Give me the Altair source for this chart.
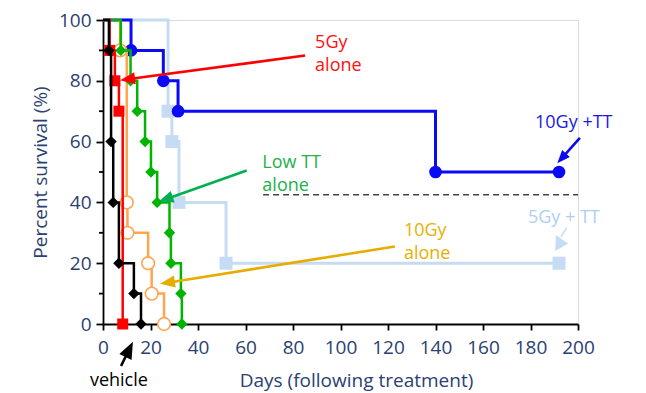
import math
import altair as alt
import pandas as pd

# ---------------- data ----------------
vehicle_days = [0, 2.5, 3.4, 4.3, 6.7, 13.0, 16.0]
vehicle_pct = [100, 90, 60, 40, 20, 10, 0]

gy5_days = [0, 2.8, 5.0, 6.7, 8.3]
gy5_pct = [100, 90, 80, 70, 0]

gy10_days = [0, 7.2, 10.0, 10.3, 19.0, 20.5, 25.7]
gy10_pct = [100, 90, 40, 30, 20, 10, 0]

lowtt_days = [0, 7.5, 11.6, 14.4, 17.7, 20.2, 22.8, 28.0, 28.6, 32.8, 33.2]
lowtt_pct = [100, 90, 80, 70, 60, 50, 40, 30, 20, 10, 0]

gy10tt_days = [0, 11.8, 25.4, 31.6, 140.0, 192.0]
gy10tt_pct = [100, 90, 80, 70, 50, 50]

gy5tt_days = [0, 27.4, 29.0, 32.0, 51.8, 192.0]
gy5tt_pct = [100, 70, 60, 40, 20, 20]

x_ticks = list(range(0, 201, 20))
y_ticks = list(range(0, 101, 20))
y_minor = [10, 30, 50, 70, 90]

ref_line_days = [67.4, 200]
ref_line_pct = [42.5, 42.5]

labels_text = ["5Gy\nalone", "Low TT\nalone", "10Gy\nalone", "10Gy +TT", "5Gy + TT", "vehicle"]
labels_day = [89.3, 67.1, 126.7, 181.9, 178.9, 6.7]
labels_pct = [90.9, 51.3, 28.8, 64.5, 33.2, -20.5]
labels_color = ["#FF1010", "#22B14C", "#E8B000", "#1A1AE6", "#AFCFF2", "#000000"]
labels_align = ["left", "left", "left", "left", "left", "center"]

arrow_tail_day = [85.1, 60.5, 122.9, 200.8, 7.6]
arrow_tail_pct = [88.3, 50.5, 25.5, 61.2, -13.8]
arrow_tip_day = [7.2, 23.4, 24.0, 191.3, 12.6]
arrow_tip_pct = [80.2, 40.2, 13.2, 52.9, -5.8]
arrow_color = ["#FF0000", "#00B050", "#E6AC00", "#0A0AF0", "#000000"]
arrow_len = [15, 15, 15, 13, 17]

lb_line_day = [195.2, 192.8]
lb_line_pct = [31.6, 28.7]
lb_head_day = [195.8]
lb_head_pct = [26.5]

# ---------------- layout ----------------
W, H = 475, 304
PX_DAY = W / 200.0
PX_PCT = H / 100.0
FONT = "Open Sans"
AXIS_COLOR = "#2B4171"

xscale = alt.Scale(domain=[0, 200], nice=False, zero=False)
yscale = alt.Scale(domain=[0, 100], nice=False)


def curve(days, pct, color, shape, size, width, filled=True, fill="white"):
    df = pd.DataFrame({"day": days, "pct": pct})
    line = alt.Chart(df).mark_line(
        interpolate="step-after", color=color, strokeWidth=width
    ).encode(
        x=alt.X("day:Q", scale=xscale),
        y=alt.Y("pct:Q", scale=yscale),
    )
    pts_df = df.iloc[1:]
    if filled:
        pm = alt.Chart(pts_df).mark_point(
            shape=shape, size=size, filled=True, color=color, opacity=1
        )
    else:
        pm = alt.Chart(pts_df).mark_point(
            shape=shape, size=size, filled=False, fill=fill, fillOpacity=1,
            stroke=color, strokeWidth=1.6, opacity=1
        )
    pts = pm.encode(x=alt.X("day:Q", scale=xscale), y=alt.Y("pct:Q", scale=yscale))
    return [line, pts]


layers = []

# axes carrier (invisible) – sets the axes
axis_df = pd.DataFrame({"day": [0, 200], "pct": [0, 100]})
axes = alt.Chart(axis_df).mark_point(opacity=0).encode(
    x=alt.X(
        "day:Q", scale=xscale,
        axis=alt.Axis(
            values=x_ticks, title="Days (following treatment)", grid=False,
            domainColor="black", domainWidth=1.8, tickColor="black", tickWidth=1.8,
            tickSize=6, labelFont=FONT, labelFontSize=19, labelColor=AXIS_COLOR,
            labelPadding=8, titleFont=FONT, titleFontSize=19, titleFontWeight="normal",
            titleColor=AXIS_COLOR, titleX=253, titleY=62, titleBaseline="alphabetic",
            labelFlush=False,
        ),
    ),
    y=alt.Y(
        "pct:Q", scale=yscale,
        axis=alt.Axis(
            values=y_ticks, title="Percent survival (%)", grid=False,
            domainColor="black", domainWidth=1.8, tickColor="black", tickWidth=1.8,
            tickSize=7, labelFont=FONT, labelFontSize=19, labelColor=AXIS_COLOR,
            labelPadding=5, titleFont=FONT, titleFontSize=19, titleFontWeight="normal",
            titleColor=AXIS_COLOR, titlePadding=8, labelFlush=False,
        ),
    ),
)
layers.append(axes)

minor = alt.Chart(pd.DataFrame({"pct": y_minor})).mark_rule(
    color="black", strokeWidth=1.8
).encode(x=alt.value(-4), x2=alt.value(0), y=alt.Y("pct:Q", scale=yscale))
layers.append(minor)

# dashed reference line
ref = alt.Chart(pd.DataFrame({"day": ref_line_days, "pct": ref_line_pct})).mark_line(
    color="#444444", strokeWidth=1.6, strokeDash=[6, 4]
).encode(x=alt.X("day:Q", scale=xscale), y=alt.Y("pct:Q", scale=yscale))
layers.append(ref)

layers += curve(gy5tt_days, gy5tt_pct, "#C6DCF4", "square", 169, 3)
layers += curve(gy10tt_days, gy10tt_pct, "#0A0AF5", "circle", 160, 3)
layers += curve(gy10_days, gy10_pct, "#FFA552", "circle", 160, 2.5, filled=False)
layers += curve(lowtt_days, lowtt_pct, "#00B400", "diamond", 130, 2.5)
layers += curve(gy5_days, gy5_pct, "#FF0000", "square", 121, 2.5)
layers += curve(vehicle_days, vehicle_pct, "#000000", "diamond", 130, 2.5)

# arrows
rows = []
for i in range(len(arrow_color)):
    dx = (arrow_tip_day[i] - arrow_tail_day[i]) * PX_DAY
    dy = -(arrow_tip_pct[i] - arrow_tail_pct[i]) * PX_PCT
    dist = math.hypot(dx, dy)
    ang = math.degrees(math.atan2(dx, -dy)) % 360
    frac = max(0.0, (dist - arrow_len[i] * 0.6) / dist)
    rows.append({
        "x1": arrow_tail_day[i], "y1": arrow_tail_pct[i],
        "x2": arrow_tail_day[i] + (arrow_tip_day[i] - arrow_tail_day[i]) * frac,
        "y2": arrow_tail_pct[i] + (arrow_tip_pct[i] - arrow_tail_pct[i]) * frac,
        "tx": arrow_tip_day[i], "ty": arrow_tip_pct[i],
        "ang": ang, "size": arrow_len[i] ** 2, "color": arrow_color[i],
    })
adf = pd.DataFrame(rows)
arrow_lines = alt.Chart(adf).mark_rule(strokeWidth=2.6).encode(
    x=alt.X("x1:Q", scale=xscale), y=alt.Y("y1:Q", scale=yscale),
    x2="x2:Q", y2="y2:Q", color=alt.Color("color:N", scale=None),
)
arrow_heads = alt.Chart(adf).mark_point(
    shape="M0,0L0.8,2L-0.8,2Z", filled=True, opacity=1
).encode(
    x=alt.X("tx:Q", scale=xscale), y=alt.Y("ty:Q", scale=yscale),
    angle=alt.Angle("ang:Q", scale=None), size=alt.Size("size:Q", scale=None),
    color=alt.Color("color:N", scale=None),
)
layers += [arrow_lines, arrow_heads]

lb_line = alt.Chart(pd.DataFrame({"day": lb_line_day, "pct": lb_line_pct})).mark_line(
    color="#C6DCF4", strokeWidth=1.5
).encode(x=alt.X("day:Q", scale=xscale), y=alt.Y("pct:Q", scale=yscale))
lb_head = alt.Chart(pd.DataFrame({"day": lb_head_day, "pct": lb_head_pct})).mark_point(
    shape="M0,0L1.28,2L-1.28,2Z", filled=True, opacity=1, color="#C6DCF4",
    size=156, angle=92,
).encode(x=alt.X("day:Q", scale=xscale), y=alt.Y("pct:Q", scale=yscale))
layers += [lb_line, lb_head]

# annotation texts
for i, t in enumerate(labels_text):
    tdf = pd.DataFrame({"day": [labels_day[i]], "pct": [labels_pct[i]], "t": [t]})
    layers.append(
        alt.Chart(tdf).mark_text(
            align=labels_align[i], baseline="alphabetic", font=FONT, fontSize=18,
            lineBreak="\n", lineHeight=23, color=labels_color[i],
        ).encode(x=alt.X("day:Q", scale=xscale), y=alt.Y("pct:Q", scale=yscale), text="t:N")
    )

chart = alt.layer(*layers).properties(
    width=W, height=H,
    padding={"left": 95, "top": 12, "right": 60, "bottom": 69},
    autosize=alt.AutoSizeParams(type="none"),
).configure_view(stroke=None).configure(background="white")

chart.save("out.html", embed_options={"renderer": "svg", "actions": False})
